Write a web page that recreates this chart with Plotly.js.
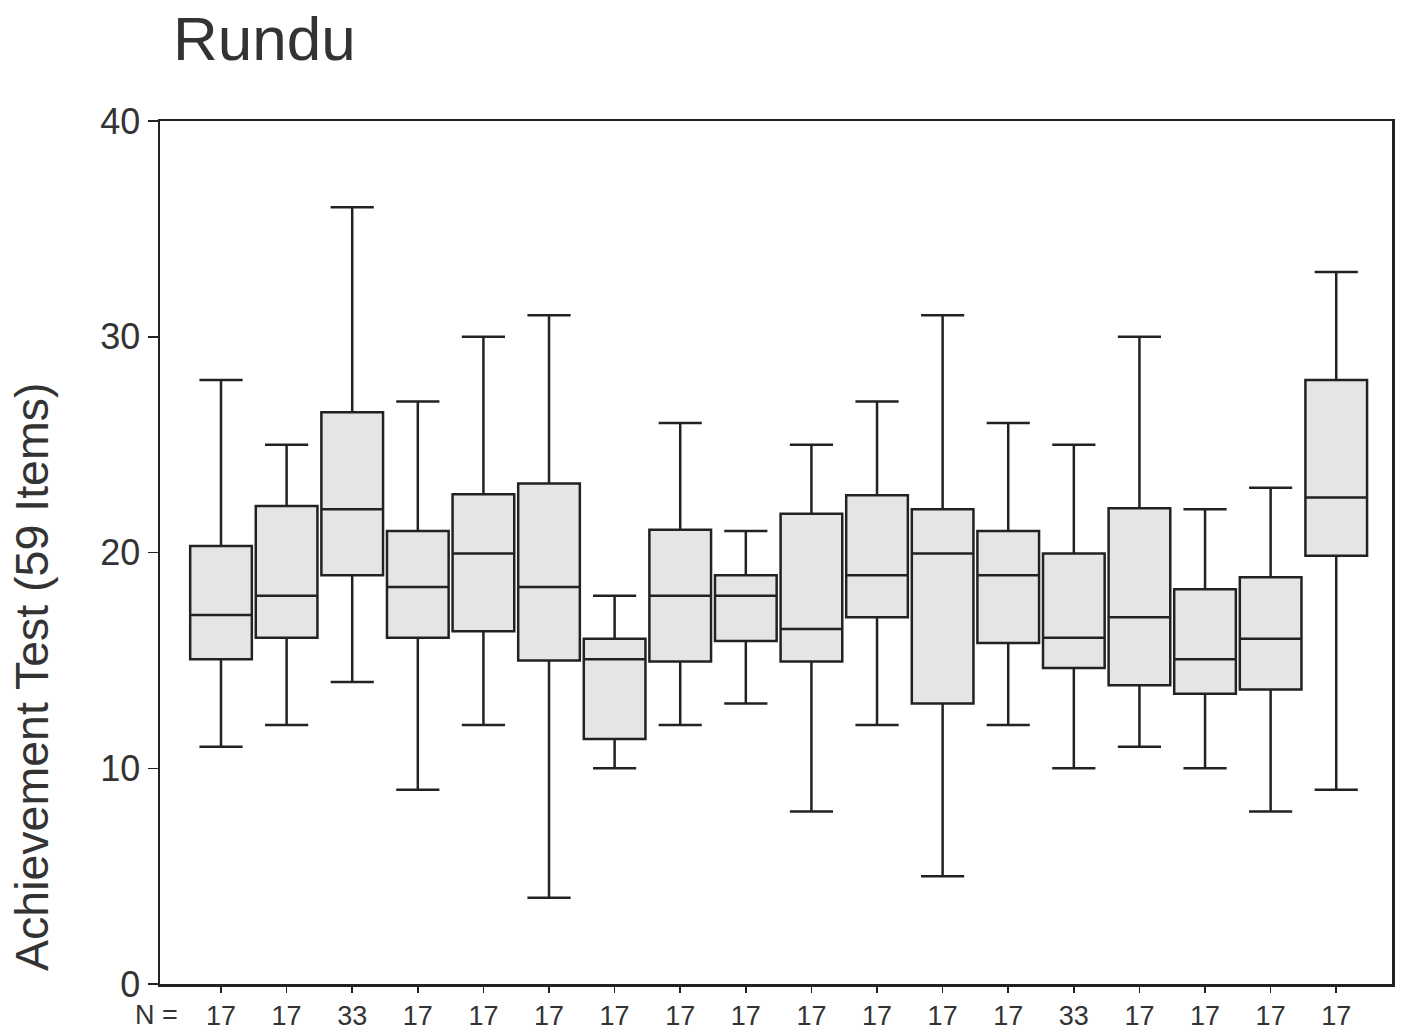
<!DOCTYPE html>
<html>
<head>
<meta charset="utf-8">
<script src="https://cdn.plot.ly/plotly-3.0.1.min.js"></script>
<style>
  html, body { margin: 0; padding: 0; background: #ffffff; }
  #chart { width: 1407px; height: 1033px; }
</style>
</head>
<body>
<div id="chart"></div>
<script>
// Group sizes shown under each box (tick labels)
const nLabels = ['17','17','33','17','17','17','17','17','17','17','17','17','17','33','17','17','17','17'];
// Box statistics (Achievement Test scores)
const lowerWhisker = [11, 12, 14, 9, 12, 4, 10, 12, 13, 8, 12, 5, 12, 10, 11, 10, 8, 9];
const q1Values     = [15.05, 16.05, 18.95, 16.05, 16.35, 15, 11.35, 14.95, 15.9, 14.95, 17, 13, 15.8, 14.65, 13.85, 13.45, 13.65, 19.85];
const medianValues = [17.1, 18, 22, 18.4, 19.95, 18.4, 15.05, 18, 18, 16.45, 18.95, 19.95, 18.95, 16.05, 17, 15.05, 16, 22.55];
const q3Values     = [20.3, 22.15, 26.5, 21, 22.7, 23.2, 16, 21.05, 18.95, 21.8, 22.65, 22, 21, 19.95, 22.05, 18.3, 18.85, 28];
const upperWhisker = [28, 25, 36, 27, 30, 31, 18, 26, 21, 25, 27, 31, 26, 25, 30, 22, 23, 33];
const yTicks = [0, 10, 20, 30, 40];

const groupIndex = nLabels.map((_, i) => i);
const FONT = '"Liberation Sans", Arial, Helvetica, sans-serif';
const INK = '#222222';
const TEXT = '#333333';

const trace = {
  type: 'box',
  x: groupIndex,
  q1: q1Values,
  median: medianValues,
  q3: q3Values,
  lowerfence: lowerWhisker,
  upperfence: upperWhisker,
  boxpoints: false,
  width: 0.94,
  whiskerwidth: 0.7,
  fillcolor: '#e5e5e5',
  line: { color: INK, width: 2.5 },
  showlegend: false,
  hoverinfo: 'skip'
};

const layout = {
  width: 1407,
  height: 1033,
  paper_bgcolor: '#ffffff',
  plot_bgcolor: '#ffffff',
  margin: { l: 160, r: 15, t: 121, b: 49 },
  font: { family: FONT, color: TEXT },
  title: {
    text: 'Rundu',
    font: { family: FONT, size: 62, color: TEXT },
    xref: 'container', yref: 'container',
    x: 173 / 1407, xanchor: 'left',
    y: 1 - 38 / 1033, yanchor: 'middle'
  },
  xaxis: {
    range: [-0.93, 17.85],
    tickmode: 'array',
    tickvals: groupIndex,
    ticktext: nLabels,
    ticks: 'outside',
    ticklen: 6,
    tickwidth: 1.5,
    tickcolor: INK,
    tickfont: { family: FONT, size: 27, color: TEXT },
    showline: true,
    linecolor: INK,
    linewidth: 2.5,
    mirror: true,
    showgrid: false,
    zeroline: false
  },
  yaxis: {
    range: [0, 40],
    tickmode: 'array',
    tickvals: yTicks,
    ticktext: yTicks.map(String),
    ticks: 'outside',
    ticklen: 10,
    tickwidth: 1.5,
    tickcolor: INK,
    tickfont: { family: FONT, size: 36, color: TEXT },
    showline: true,
    linecolor: INK,
    linewidth: 2.5,
    mirror: true,
    showgrid: false,
    zeroline: false
  },
  annotations: [
    {
      text: 'Achievement Test (59 Items)',
      xref: 'paper', yref: 'paper',
      x: -128 / 1232, y: (984 - 677) / 863,
      xanchor: 'center', yanchor: 'middle',
      textangle: -90,
      showarrow: false,
      font: { family: FONT, size: 46.5, color: TEXT }
    },
    {
      text: 'N =',
      xref: 'paper', yref: 'paper',
      x: (156 - 160) / 1232, y: -31 / 863,
      xanchor: 'center', yanchor: 'middle',
      showarrow: false,
      font: { family: FONT, size: 27, color: TEXT }
    }
  ]
};

Plotly.newPlot('chart', [trace], layout, { displayModeBar: false, staticPlot: true });
</script>
</body>
</html>
